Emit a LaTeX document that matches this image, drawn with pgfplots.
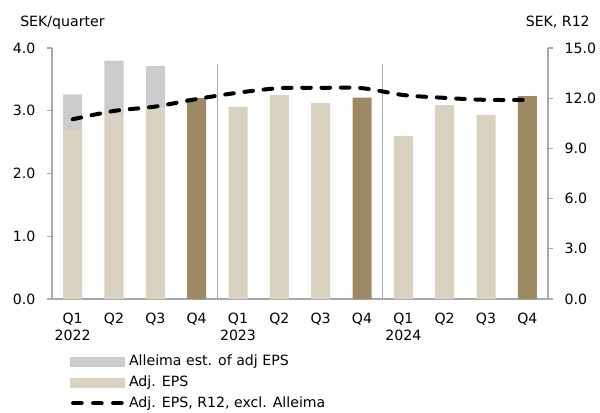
\documentclass[border=0pt]{standalone}
\usepackage{pgfplots}
\pgfplotsset{compat=1.18}
\usepackage{fontspec}
\setmainfont{DejaVu Sans}
\definecolor{gbar}{RGB}{204,204,204}
\definecolor{beige}{RGB}{218,210,192}
\definecolor{brown}{RGB}{158,137,101}
\definecolor{axgray}{RGB}{170,170,170}
\newcommand{\chartfont}{\fontsize{10.6}{13}\selectfont}
\begin{document}
\chartfont
\begin{tikzpicture}
\useasboundingbox (-39pt,-84.75pt) rectangle (411pt,224.25pt);
\pgfplotsset{
  every axis/.append style={
    scale only axis, width=372pt, height=188.25pt,
    xmin=-0.5, xmax=11.5,
    /pgf/number format/assume math mode=true,
    tick label style={font=\chartfont},
  }
}
\begin{axis}[
  ymin=0, ymax=4, ytick={0,1,2,3,4},
  yticklabel style={/pgf/number format/fixed,/pgf/number format/fixed zerofill,/pgf/number format/precision=1, xshift=-5pt},
  axis x line*=bottom, axis y line*=left,
  axis line style={axgray, line width=0.8pt},
  y axis line style={-}, x axis line style={-},
  ytick style={axgray, line width=0.8pt}, tick align=outside, major tick length=3.75pt,
  xtick={0,...,11},
  xticklabels={Q1\\2022,Q2,Q3,Q4,Q1\\2023,Q2,Q3,Q4,Q1\\2024,Q2,Q3,Q4},
  xticklabel style={align=center, yshift=-3pt},
  xtick style={draw=none},
  ybar stacked, bar width=14.25pt,
  legend style={at={(0.036,-0.212)}, anchor=north west, draw=none, fill=none,
    font=\chartfont, row sep=2pt, inner sep=0pt,
    /tikz/every even column/.style={column sep=4pt}},
  legend cell align=left,
]
\addplot[fill=beige, draw=none, forget plot] coordinates {
 (0,2.69) (1,2.93) (2,3.04) (3,0) (4,3.06) (5,3.25) (6,3.12) (7,0) (8,2.60) (9,3.09) (10,2.93) (11,0)};
\addplot[fill=brown, draw=none, forget plot] coordinates {
 (0,0) (1,0) (2,0) (3,3.20) (4,0) (5,0) (6,0) (7,3.21) (8,0) (9,0) (10,0) (11,3.235)};
\addplot[fill=gbar, draw=none, forget plot] coordinates {
 (0,0.57) (1,0.87) (2,0.67) (3,0) (4,0) (5,0) (6,0) (7,0) (8,0) (9,0) (10,0) (11,0)};
\addlegendimage{legend image code/.code={\fill[gbar] (0pt,-3.4pt) rectangle (40.5pt,3.4pt);}}
\addlegendentry{Alleima est. of adj EPS}
\addlegendimage{legend image code/.code={\fill[beige] (0pt,-3.4pt) rectangle (40.5pt,3.4pt);}}
\addlegendentry{Adj. EPS}
\addlegendimage{legend image code/.code={\draw[black, line width=3pt, line cap=round, dash pattern=on 6.5pt off 8.5pt] (2pt,0pt) -- (40.5pt,0pt);}}
\addlegendentry{Adj. EPS, R12, excl. Alleima}
\draw[axgray, line width=0.8pt] (axis cs:3.5,0) -- (axis cs:3.5,3.75);
\draw[axgray, line width=0.8pt] (axis cs:7.5,0) -- (axis cs:7.5,3.75);
\end{axis}
\begin{axis}[
  ymin=0, ymax=15, ytick={0,3,6,9,12,15},
  yticklabel style={/pgf/number format/fixed,/pgf/number format/fixed zerofill,/pgf/number format/precision=1, xshift=5pt},
  axis x line=none, axis y line*=right,
  axis line style={axgray, line width=0.8pt}, y axis line style={-},
  ytick style={axgray, line width=0.8pt}, tick align=outside, major tick length=3.75pt,
]
\addplot[black, line width=3pt, line cap=round, dash pattern=on 6.5pt off 8pt, smooth, tension=0.5] coordinates {
 (0,10.74) (1,11.24) (2,11.5) (3,11.95) (4,12.33) (5,12.6) (6,12.62) (7,12.6) (8,12.19) (9,12.02) (10,11.9) (11,11.9)};
\end{axis}
\node[anchor=west, inner sep=0pt] at (-24pt,207.5pt) {SEK/quarter};
\node[anchor=east, inner sep=0pt] at (403.5pt,207.5pt) {SEK, R12};
\end{tikzpicture}
\end{document}
